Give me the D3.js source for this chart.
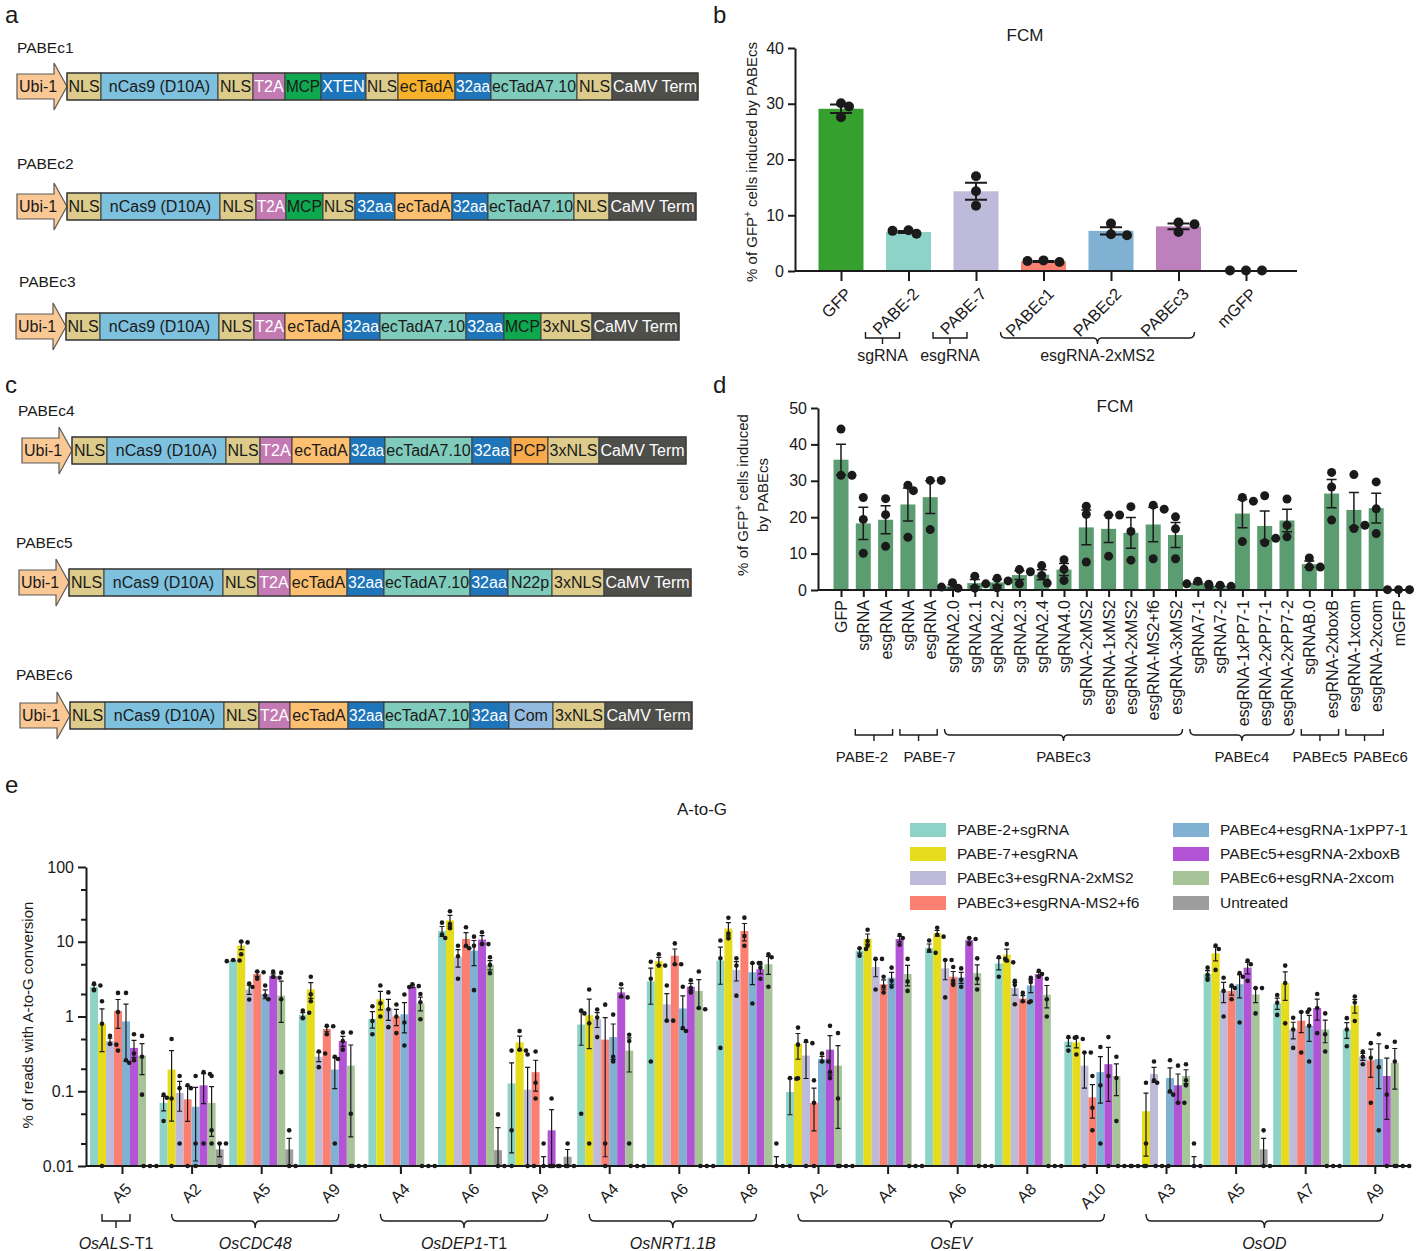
<!DOCTYPE html>
<html>
<head>
<meta charset="utf-8">
<script src="https://cdn.jsdelivr.net/npm/d3@7/dist/d3.min.js"></script>
<style>
  html, body { margin:0; padding:0; background:#ffffff; }
  svg { display:block; font-family:"Liberation Sans", Arial, Helvetica, sans-serif; }
</style>
</head>
<body>
<svg id="fig" width="1418" height="1251" viewBox="0 0 1418 1251"></svg>
<script>
// ================= DATA =================
// Panels a & c : construct maps (element labels + relative element lengths)
const constructNames = ["PABEc1","PABEc2","PABEc3","PABEc4","PABEc5","PABEc6"];
const pabec1Parts = ["NLS","nCas9 (D10A)","NLS","T2A","MCP","XTEN","NLS","ecTadA","32aa","ecTadA7.10","NLS","CaMV Term"];
const pabec1Len   = [34,117,35,32,36,45,32,57,36,86,35,86];
const pabec2Parts = ["NLS","nCas9 (D10A)","NLS","T2A","MCP","NLS","32aa","ecTadA","32aa","ecTadA7.10","NLS","CaMV Term"];
const pabec2Len   = [34,119,36,30,37,32,40,57,36,86,35,87];
const pabec3Parts = ["NLS","nCas9 (D10A)","NLS","T2A","ecTadA","32aa","ecTadA7.10","32aa","MCP","3xNLS","CaMV Term"];
const pabec3Len   = [34,119,35,31,58,37,86,38,37,51,87];
const pabec4Parts = ["NLS","nCas9 (D10A)","NLS","T2A","ecTadA","32aa","ecTadA7.10","32aa","PCP","3xNLS","CaMV Term"];
const pabec4Len   = [35,119,34,32,58,35,87,39,37,51,87];
const pabec5Parts = ["NLS","nCas9 (D10A)","NLS","T2A","ecTadA","32aa","ecTadA7.10","32aa","N22p","3xNLS","CaMV Term"];
const pabec5Len   = [35,119,35,32,57,37,86,38,44,52,87];
const pabec6Parts = ["NLS","nCas9 (D10A)","NLS","T2A","ecTadA","32aa","ecTadA7.10","32aa","Com","3xNLS","CaMV Term"];
const pabec6Len   = [35,119,35,31,58,36,86,39,44,52,87];
const promoterLabel = "Ubi-1";

// Panel b : FCM
const bCats  = ["GFP","PABE-2","PABE-7","PABEc1","PABEc2","PABEc3","mGFP"];
const bMeans = [29.1, 7.0, 14.3, 1.7, 7.2, 8.0, 0.1];
const bDots  = [[30.1,29.5,27.6],[7.3,6.7,7.2],[17.0,14.3,11.7],[1.9,1.6,1.8],[8.5,6.6,6.4],[8.7,8.4,7.0],[0.1,0.1,0.1]];
const bTicks = [0,10,20,30,40];
const bGroupLabels = ["sgRNA","esgRNA","esgRNA-2xMS2"];
const bGroupFirst  = [1,2,3];
const bGroupLast   = [1,2,5];

// Panel d : FCM
const dCats  = ["GFP","sgRNA","esgRNA","sgRNA","esgRNA","sgRNA2.0","sgRNA2.1","sgRNA2.2","sgRNA2.3","sgRNA2.4","sgRNA4.0",
                "sgRNA-2xMS2","esgRNA-1xMS2","esgRNA-2xMS2","esgRNA-MS2+f6","esgRNA-3xMS2","sgRNA7-1","sgRNA7-2",
                "esgRNA-1xPP7-1","esgRNA-2xPP7-1","esgRNA-2xPP7-2","sgRNAB.0","esgRNA-2xboxB","esgRNA-1xcom","esgRNA-2xcom","mGFP"];
const dMeans = [35.8,18.3,19.3,23.5,25.5,1.0,1.9,2.1,4.1,4.2,5.6,17.2,16.8,15.7,18.0,15.1,1.9,1.1,21.0,17.6,19.1,7.1,26.5,22.0,22.5,0.1];
const dDots  = [[44.2,31.5,31.5],[25.4,19.4,10.1],[25.1,20.7,12.0],[28.8,27.3,14.5],[30.1,30.1,16.6],[2.0,0.5,0.8],[3.8,0.5,1.7],
                [3.2,0.6,2.5],[5.6,5.0,1.7],[6.7,4.0,1.9],[8.3,5.7,2.6],[23.0,20.8,7.7],[20.6,20.6,9.3],[22.9,16.1,8.2],[23.3,22.2,8.6],
                [20.1,16.8,8.6],[2.4,1.6,1.7],[1.3,1.0,1.0],[25.4,24.4,13.3],[25.9,13.0,14.2],[25.0,17.8,14.6],[8.8,6.3,6.3],
                [32.3,28.3,19.2],[31.7,16.9,17.8],[29.7,22.3,15.5],[0.1,0.1,0.1]];
const dTicks = [0,10,20,30,40,50];
const dGroupLabels = ["PABE-2","PABE-7","PABEc3","PABEc4","PABEc5","PABEc6"];
const dGroupFirst  = [1,3,5,16,21,23];
const dGroupLast   = [2,4,15,20,22,24];

// Panel e : A-to-G (19 target sites, 8 treatments)
const eSites = ["A5","A2","A5","A9","A4","A6","A9","A4","A6","A8","A2","A4","A6","A8","A10","A3","A5","A7","A9"];
const eGenes      = ["OsALS","OsCDC48","OsDEP1","OsNRT1.1B","OsEV","OsOD"];
const eGeneSuffix = ["-T1","","-T1","","",""];
const eGeneFirst  = [0,1,4,7,10,15];
const eGeneLast   = [0,3,6,9,14,18];
const eSeries = ["PABE-2+sgRNA","PABE-7+esgRNA","PABEc3+esgRNA-2xMS2","PABEc3+esgRNA-MS2+f6",
                 "PABEc4+esgRNA-1xPP7-1","PABEc5+esgRNA-2xboxB","PABEc6+esgRNA-2xcom","Untreated"];
const eMajorTicks = [0.01,0.1,1,10,100];
const eMinorTicks = [0.02,0.05,0.2,0.5,2,5,20,50];

const pabe2Mean = [2.5,0.07,5.6,1.05,0.93,13.9,0.127,0.78,2.95,5.6,0.098,7.6,8.3,5.1,0.46,0,3.7,1.5,0.67];
const pabe2Dots = [[2.75,2.6,2.25],[0.09,0.082,0.04],[5.7,5.6,5.5],[1.2,1.12,0.95],[1.37,0.87,0.58],[18,12.5,11.2],[0.35,0.03,0],
  [1.2,1.1,0.05],[5.4,3.2,0.25],[10.4,6.0,0.38],[0.15,0.147,0],[8.2,8.0,6.5],[10.4,7.6,7.1],[6.2,5.9,3.4],[0.53,0.52,0.35],
  [0,0,0],[4.5,3.6,3.1],[1.94,1.53,1.05],[0.95,0.67,0.4]];
const pabe7Mean = [0.8,0.195,8.9,2.3,1.7,19.3,0.45,1.04,5.5,15.0,0.43,11.0,13.0,6.7,0.45,0.054,7.0,2.8,1.4];
const pabe7Dots = [[1.6,0.8,0],[0.5,0.08,0],[10.1,9.8,6.8],[3.4,1.98,1.6],[2.6,1.5,1.0],[25.6,17.3,15.2],[0.64,0.36,0.35],
  [2.3,0.81,0.02],[6.8,4.8,4.8],[20.9,12.9,11.1],[0.71,0.42,0.149],[14.5,10.2,8.85],[15.4,12.4,11.7],[9.3,5.6,5.3],[0.53,0.5,0.31],
  [0.13,0.02,0],[8.9,8.0,4.2],[4.8,2.8,0.81],[1.85,1.54,0.87]];
const c3ms2Mean = [0.47,0.095,2.3,0.29,1.29,6.2,0.105,0.92,1.45,4.2,0.30,4.6,4.4,2.4,0.22,0.17,2.2,0.67,0.29];
const c3ms2Dots = [[0.55,0.43,0.42],[0.16,0.11,0.02],[2.76,2.48,1.69],[0.34,0.32,0.21],[2.1,1.25,0.72],[8.85,6.4,3.2],[0.31,0,0],
  [1.24,0.97,0.53],[2.6,0.88,0.88],[6.0,4.8,1.9],[0.47,0.44,0],[5.9,5.9,2.3],[5.7,5.7,1.8],[3.0,2.65,1.46],[0.33,0.33,0],
  [0.25,0.14,0.13],[3.3,2.2,1.0],[0.96,0.67,0.38],[0.34,0.29,0.23]];
const c3f6Mean = [1.19,0.078,3.7,0.68,1.0,10.9,0.18,0.49,6.5,13.9,0.07,2.7,3.4,1.74,0.083,0,2.2,0.88,0.26];
const c3f6Dots = [[2.07,1.15,0.35],[0.12,0.11,0],[4.0,3.9,3.2],[0.75,0.74,0.58],[1.45,1.0,0.6],[15.6,8.85,8.2],[0.34,0.13,0.08],
  [1.44,0.02,0],[9.5,5.0,5.0],[21,11.9,8.85],[0.14,0.07,0],[3.4,2.5,2.1],[4.6,3.0,2.65],[2.07,1.6,1.55],[0.16,0.06,0.03],
  [0,0,0],[2.6,2.4,1.7],[1.15,1.15,0.33],[0.44,0.28,0.07]];
const c4Mean = [0.86,0.062,2.0,0.195,1.07,7.6,0.0067,0.53,1.28,3.9,0.27,3.3,3.33,2.6,0.18,0.15,2.7,0.75,0.27];
const c4Dots = [[2.07,0.26,0.24],[0.16,0.02,0],[2.6,1.9,1.7],[0.29,0.27,0.02],[1.97,0.83,0.41],[11.7,8.85,2.25],[0.02,0,0],
  [1.06,0.29,0.25],[2.5,0.7,0.64],[5.2,5.2,1.49],[0.32,0.25,0.25],[4.5,3.0,2.5],[4.4,3.1,2.5],[3.3,2.9,1.6],[0.39,0.12,0.02],
  [0.26,0.1,0.09],[3.8,3.4,0.83],[1.24,0.75,0.25],[0.58,0.21,0.03]];
const c5Mean = [0.38,0.12,3.5,0.47,2.5,10.7,0.03,2.1,2.5,4.3,0.36,10.9,10.5,3.7,0.23,0.12,4.5,1.3,0.16];
const c5Dots = [[0.58,0.32,0.26],[0.18,0.17,0.02],[3.98,3.4,3.3],[0.61,0.47,0.36],[2.7,2.55,2.48],[13.4,9.3,9.3],[0.08,0,0],
  [2.7,1.85,1.8],[3.05,2.4,2.1],[5.2,4.5,3.2],[0.75,0.18,0.15],[12.3,11.2,9.1],[11.2,10.9,9.3],[4.1,3.7,3.4],[0.53,0.16,0],
  [0.22,0.07,0.07],[5.6,5.0,3.0],[2.0,1.3,0.6],[0.39,0.09,0]];
const c6Mean = [0.30,0.07,1.9,0.22,1.5,4.9,0,0.35,2.2,5.0,0.22,3.7,3.8,1.95,0.16,0.16,1.97,0.67,0.24];
const c6Dots = [[0.55,0.29,0.09],[0.16,0.03,0.02],[3.86,1.7,0.18],[0.61,0.05,0],[2.0,1.55,0.92],[6.2,4.9,3.8],[0,0,0],
  [0.57,0.47,0.02],[4.0,1.3,1.25],[6.8,6.2,2.5],[0.6,0.08,0],[5.9,2.95,2.2],[6.0,3.2,2.3],[3.2,1.7,1.0],[0.29,0.15,0.04],
  [0.23,0.14,0.12],[2.4,2.4,1.1],[1.1,0.58,0.34],[0.46,0.25,0]];
const untrMean = [0,0.0167,0.0167,0,0,0.0163,0.0133,0,0,0.0067,0,0,0,0,0,0.0067,0.0167,0,0];
const untrDots = [[0,0,0],[0.02,0.02,0.01],[0.03,0.01,0.01],[0,0,0],[0,0,0],[0.049,0,0],[0.02,0.01,0.01],[0,0,0],[0,0,0],
  [0.02,0,0],[0,0,0],[0,0,0],[0,0,0],[0,0,0],[0,0,0],[0.02,0,0],[0.03,0.01,0.01],[0,0,0],[0,0,0]];

// ================= DRAWING =================
const svg = d3.select("#fig");
const INK = "#1a1a1a";
const sem = a => a.length > 1 ? d3.deviation(a) / Math.sqrt(a.length) : 0;

function swarm(vals, yfn, r, step) {
  const placed = [];
  return vals.map(v => {
    const py = yfn(v);
    const offs = [0, step, -step, 2*step, -2*step];
    for (const o of offs) {
      if (placed.every(p => Math.hypot(p[0]-o, p[1]-py) >= r*1.7)) { placed.push([o,py]); return [o,py]; }
    }
    placed.push([0,py]); return [0,py];
  });
}
function bracket(g, x0, x1, yTop, yLine, yDown, curly, sw) {
  const xm = (x0+x1)/2;
  let d;
  if (!curly) d = `M${x0},${yTop}V${yLine}H${x1}V${yTop}M${xm},${yLine}V${yDown}`;
  else d = `M${x0},${yTop}Q${x0},${yLine} ${x0+5},${yLine}H${xm-4}Q${xm},${yLine} ${xm},${yDown}Q${xm},${yLine} ${xm+4},${yLine}H${x1-5}Q${x1},${yLine} ${x1},${yTop}`;
  g.append("path").attr("d", d).attr("fill","none").attr("stroke", INK).attr("stroke-width", sw||1.4);
}
function styleAxis(g, fs, sw) {
  g.selectAll("text").attr("font-family",'"Liberation Sans", Arial, sans-serif').attr("font-size", fs).attr("fill", INK);
  g.selectAll("line").attr("stroke", INK).attr("stroke-width", sw);
  g.selectAll("path.domain").attr("stroke", INK).attr("stroke-width", sw);
}

// ---- panel letters
[["a",5,23],["b",713,23],["c",5,393],["d",713,393],["e",5,793]].forEach(([t,x,y]) =>
  svg.append("text").attr("x",x).attr("y",y).attr("font-size",24).attr("fill",INK).text(t));

// ---- panels a & c : constructs
const constructParts = [pabec1Parts,pabec2Parts,pabec3Parts,pabec4Parts,pabec5Parts,pabec6Parts];
const constructLens  = [pabec1Len,pabec2Len,pabec3Len,pabec4Len,pabec5Len,pabec6Len];
const rowTop   = [73,193,313,437,569,702];
const rowStart = [67,67,66,72,69,70];
const rowH = 27;
const labelPos = [[17,48],[17,164],[19,282],[18,411],[16,543],[16,675]];
const partFill = {"NLS":"#dccb8b","3xNLS":"#dccb8b","nCas9 (D10A)":"#7dc1de","T2A":"#c37ab3","MCP":"#0ea94f",
  "XTEN":"#1d76bc","ecTadA":"#fdc070","32aa":"#1e75b9","ecTadA7.10":"#80ccbc","CaMV Term":"#4e4e4b",
  "PCP":"#f8aa4c","N22p":"#80ccbc","Com":"#93badf"};
const whiteText = new Set(["T2A","XTEN","32aa","CaMV Term"]);

constructNames.forEach((nm, r) => {
  const g = svg.append("g");
  g.append("text").attr("x", labelPos[r][0]).attr("y", labelPos[r][1]).attr("dy","0.35em")
    .attr("font-size",15.5).attr("fill",INK).text(nm);
  const top = rowTop[r], bot = top + rowH, mid = top + rowH/2;
  const x0 = rowStart[r];
  const lens = constructLens[r], parts = constructParts[r];
  const cum = Array.from(d3.cumsum(lens));
  const xs = d3.scaleLinear().domain([0, d3.sum(lens)]).range([x0, x0 + d3.sum(lens)]);
  const ax0 = x0 - 50, axh = x0 - 13;
  g.append("path").attr("d", `M${ax0},${top+1}H${axh}V${top-10}L${x0},${mid}L${axh},${bot+10}V${bot-1}H${ax0}Z`)
    .attr("fill","#f9c894").attr("stroke","#5a5a5a").attr("stroke-width",1.2);
  const ut = g.append("text").attr("x", ax0+2).attr("y", mid).attr("dy","0.36em").attr("font-size",16).attr("fill",INK).text(promoterLabel);
  if (ut.node().getComputedTextLength() > 42) ut.attr("textLength",42).attr("lengthAdjust","spacingAndGlyphs");
  parts.forEach((p,i) => {
    const a = xs(i ? cum[i-1] : 0), b = xs(cum[i]);
    let fill = partFill[p];
    if (r === 0 && p === "ecTadA") fill = "#f7b12b";
    g.append("rect").attr("x",a).attr("y",top).attr("width",b-a).attr("height",rowH)
      .attr("fill",fill).attr("stroke","#3c3c3c").attr("stroke-width",1);
    const t = g.append("text").attr("x",(a+b)/2).attr("y",mid).attr("dy","0.36em").attr("text-anchor","middle")
      .attr("font-size",16).attr("fill", whiteText.has(p) ? "#ffffff" : INK).text(p);
    const w = t.node().getComputedTextLength();
    if (w > (b-a) - 2) t.attr("textLength", (b-a)-2).attr("lengthAdjust","spacingAndGlyphs");
  });
  g.append("rect").attr("x",x0).attr("y",top).attr("width",d3.sum(lens)).attr("height",rowH)
    .attr("fill","none").attr("stroke","#3c3c3c").attr("stroke-width",1.2);
});

// ---- panel b
(function(){
  const g = svg.append("g");
  const bColors = ["#36a02f","#8dd3c7","#bebada","#fb8072","#80b1d3","#bc80bd","#999999"];
  const x = d3.scalePoint().domain(bCats).range([841, 1246]);
  const y = d3.scaleLinear().domain([0,40]).range([271,48]);
  const bw = 45, axX = 795, y0 = y(0);
  g.append("text").attr("x",1025).attr("y",35).attr("dy","0.35em").attr("text-anchor","middle").attr("font-size",17).attr("fill",INK).text("FCM");
  g.selectAll("rect.bar").data(bCats).join("rect").attr("class","bar")
    .attr("x", d => x(d)-bw/2).attr("width", bw)
    .attr("y", (d,i) => y(bMeans[i])).attr("height", (d,i) => y0 - y(bMeans[i]))
    .attr("fill", (d,i) => bColors[i]);
  const ya = g.append("g").attr("transform",`translate(${axX},0)`)
    .call(d3.axisLeft(y).tickValues(bTicks).tickSize(7).tickSizeOuter(0).tickPadding(4));
  styleAxis(ya, 16, 2);
  const xa = g.append("g").attr("transform",`translate(0,${y0})`)
    .call(d3.axisBottom(x).tickSize(10).tickSizeOuter(0));
  xa.select(".domain").remove();
  styleAxis(xa, 16.5, 2);
  xa.selectAll(".tick text").attr("y",0).attr("dy","0.35em").attr("text-anchor","end")
    .attr("transform","translate(7,20) rotate(-45)");
  g.append("line").attr("x1",axX).attr("x2",1297).attr("y1",y0).attr("y2",y0).attr("stroke",INK).attr("stroke-width",2);
  bCats.forEach((c,i) => {
    const s = sem(bDots[i]), m = bMeans[i], cx = x(c);
    if (s > 0.05) {
      const lo = y(m - s), hi = y(m + s);
      g.append("path").attr("d",`M${cx},${lo}V${hi}M${cx-11},${hi}H${cx+11}M${cx-11},${lo}H${cx+11}`)
        .attr("stroke",INK).attr("stroke-width",2).attr("fill","none");
    }
    swarm(bDots[i], y, 5, 8).forEach(([o,py]) =>
      g.append("circle").attr("cx",cx+o).attr("cy",py).attr("r",5).attr("fill",INK));
  });
  const yl = g.append("text").attr("transform","translate(757,162) rotate(-90)").attr("text-anchor","middle")
    .attr("font-size",15).attr("fill",INK);
  yl.append("tspan").text("% of GFP");
  yl.append("tspan").attr("font-size",10).attr("dy",-6).text("+");
  yl.append("tspan").attr("dy",6).text(" cells induced by PABEcs");
  bGroupLabels.forEach((lab,k) => {
    const xa0 = x(bCats[bGroupFirst[k]]) - 43, xa1 = x(bCats[bGroupLast[k]]) + (bGroupFirst[k]===bGroupLast[k] ? -9 : 16);
    bracket(g, xa0, xa1, 332, 338, 344, bGroupFirst[k]!==bGroupLast[k], 1.4);
    g.append("text").attr("x",(xa0+xa1)/2).attr("y",355).attr("dy","0.35em").attr("text-anchor","middle")
      .attr("font-size",16).attr("fill",INK).text(lab);
  });
})();

// ---- panel d
(function(){
  const g = svg.append("g");
  const idx = d3.range(dCats.length);
  const x = d3.scalePoint().domain(idx).range([841, 1398.5]);
  const y = d3.scaleLinear().domain([0,50]).range([590,408]);
  const bw = 15, axX = 818, y0 = y(0);
  g.append("text").attr("x",1115).attr("y",406).attr("dy","0.35em").attr("text-anchor","middle").attr("font-size",17).attr("fill",INK).text("FCM");
  g.selectAll("rect.bar").data(idx).join("rect").attr("class","bar")
    .attr("x", i => x(i)-bw/2).attr("width", bw)
    .attr("y", i => y(dMeans[i])).attr("height", i => y0 - y(dMeans[i]))
    .attr("fill", "#5c9c71");
  const ya = g.append("g").attr("transform",`translate(${axX},0)`)
    .call(d3.axisLeft(y).tickValues(dTicks).tickSize(7).tickSizeOuter(0).tickPadding(4));
  styleAxis(ya, 16, 2);
  const xa = g.append("g").attr("transform",`translate(0,${y0})`)
    .call(d3.axisBottom(x).tickSize(7).tickSizeOuter(0).tickFormat(i => dCats[i]));
  xa.select(".domain").remove();
  styleAxis(xa, 16, 2);
  xa.selectAll(".tick text").attr("y",0).attr("dy","0.35em").attr("text-anchor","end")
    .attr("transform","translate(0,10) rotate(-90)");
  g.append("line").attr("x1",axX).attr("x2",1410).attr("y1",y0).attr("y2",y0).attr("stroke",INK).attr("stroke-width",2);
  idx.forEach(i => {
    const s = sem(dDots[i]), m = dMeans[i], cx = x(i);
    if (s > 0.05) {
      const lo = y(Math.max(0, m - s)), hi = y(m + s);
      g.append("path").attr("d",`M${cx},${lo}V${hi}M${cx-5},${hi}H${cx+5}M${cx-5},${lo}H${cx+5}`)
        .attr("stroke",INK).attr("stroke-width",1.5).attr("fill","none");
    }
    swarm(dDots[i], y, 4.5, 5.5).forEach(([o,py]) =>
      g.append("circle").attr("cx",cx+o).attr("cy",py).attr("r",4.5).attr("fill",INK));
  });
  const yl = g.append("text").attr("transform","translate(748,495) rotate(-90)").attr("text-anchor","middle")
    .attr("font-size",15).attr("fill",INK);
  yl.append("tspan").text("% of GFP");
  yl.append("tspan").attr("font-size",10).attr("dy",-6).text("+");
  yl.append("tspan").attr("dy",6).text(" cells induced");
  g.append("text").attr("transform","translate(768,495) rotate(-90)").attr("text-anchor","middle")
    .attr("font-size",15).attr("fill",INK).text("by PABEcs");
  const labelNudge = [-12, 11, 0, 0, 0, 16];
  dGroupLabels.forEach((lab,k) => {
    const xa0 = x(dGroupFirst[k]) - 8, xa1 = x(dGroupLast[k]) + 7;
    const curly = dGroupLast[k] - dGroupFirst[k] > 2;
    bracket(g, xa0, xa1, 729, 735, 741, curly, 1.4);
    g.append("text").attr("x",(xa0+xa1)/2 + labelNudge[k]).attr("y",757).attr("dy","0.35em").attr("text-anchor","middle")
      .attr("font-size",15).attr("fill",INK).text(lab);
  });
})();

// ---- panel e
(function(){
  const g = svg.append("g");
  const eColors = ["#8dd3c7","#e6dc1b","#bebada","#fb8072","#80b1d3","#b353d6","#a7c498","#9d9d9d"];
  const eMeans = [pabe2Mean,pabe7Mean,c3ms2Mean,c3f6Mean,c4Mean,c5Mean,c6Mean,untrMean];
  const eDots  = [pabe2Dots,pabe7Dots,c3ms2Dots,c3f6Dots,c4Dots,c5Dots,c6Dots,untrDots];
  const idx = d3.range(eSites.length);
  const x = d3.scalePoint().domain(idx).range([122, 1374.8]);
  const y = d3.scaleLog().domain([0.01,100]).range([1166,867]).clamp(true);
  const yv = v => y(Math.max(v, 0.01));
  const bw = 8.0, axX = 86, y0 = 1166;
  const bx = (i,k) => x(i) + (k - 3.5) * bw;
  g.append("text").attr("x",702).attr("y",809).attr("dy","0.35em").attr("text-anchor","middle").attr("font-size",17).attr("fill",INK).text("A-to-G");
  eSeries.forEach((nm,k) => {
    idx.forEach(i => {
      const m = eMeans[k][i];
      if (m > 0.0101) g.append("rect").attr("x", bx(i,k)-bw/2).attr("width", bw)
        .attr("y", yv(m)).attr("height", y0 - yv(m)).attr("fill", eColors[k]);
    });
  });
  eSeries.forEach((nm,k) => {
    idx.forEach(i => {
      const m = eMeans[k][i]; if (!(m > 0)) return;
      const s = sem(eDots[k][i]); const cx = bx(i,k);
      const hi = yv(m + s), lo = yv(m - s);
      let d = `M${cx},${lo}V${hi}M${cx-2.5},${hi}H${cx+2.5}`;
      if (m - s > 0.0101) d += `M${cx-2.5},${lo}H${cx+2.5}`;
      g.append("path").attr("d", d).attr("stroke",INK).attr("stroke-width",1.2).attr("fill","none");
    });
  });
  eSeries.forEach((nm,k) => {
    idx.forEach(i => {
      const cx = bx(i,k);
      swarm(eDots[k][i], yv, 2.3, 3.2).forEach(([o,py]) =>
        g.append("circle").attr("cx",cx+o).attr("cy",py).attr("r",2.3).attr("fill",INK));
    });
  });
  const fmt = d => (d >= 1 ? d3.format("d")(d) : String(d));
  const ya = g.append("g").attr("transform",`translate(${axX},0)`)
    .call(d3.axisLeft(y).tickValues(eMajorTicks).tickFormat(fmt).tickSize(8).tickSizeOuter(0).tickPadding(4));
  styleAxis(ya, 16, 2);
  const ym = g.append("g").attr("transform",`translate(${axX},0)`)
    .call(d3.axisLeft(y).tickValues(eMinorTicks).tickFormat("").tickSize(5).tickSizeOuter(0));
  ym.select(".domain").remove();
  styleAxis(ym, 16, 2);
  const xa = g.append("g").attr("transform",`translate(0,${y0})`)
    .call(d3.axisBottom(x).tickSize(8).tickSizeOuter(0).tickFormat(i => eSites[i]));
  xa.select(".domain").remove();
  styleAxis(xa, 16, 2);
  xa.selectAll(".tick text").attr("y",0).attr("dy","0.35em").attr("text-anchor","end")
    .attr("transform","translate(6,20) rotate(-45)");
  g.append("line").attr("x1",axX).attr("x2",1408).attr("y1",y0).attr("y2",y0).attr("stroke",INK).attr("stroke-width",2);
  g.append("text").attr("transform","translate(33,1015) rotate(-90)").attr("text-anchor","middle")
    .attr("font-size",15).attr("fill",INK).text("% of reads with A-to-G conversion");
  eGenes.forEach((gn,k) => {
    const xa0 = x(eGeneFirst[k]) - 20, xa1 = x(eGeneLast[k]) + 8;
    bracket(g, xa0, xa1, 1214, 1221, 1228, eGeneFirst[k] !== eGeneLast[k], 1.4);
    const t = g.append("text").attr("x",(xa0+xa1)/2).attr("y",1243).attr("dy","0.35em").attr("text-anchor","middle")
      .attr("font-size",16).attr("fill",INK);
    t.append("tspan").attr("font-style","italic").text(gn);
    if (eGeneSuffix[k]) t.append("tspan").text(eGeneSuffix[k]);
  });
  const rowsY = [830,854,878,903];
  eSeries.forEach((nm,k) => {
    const col = k < 4 ? 0 : 1, r = k % 4;
    const lx = col ? 1173 : 910;
    g.append("rect").attr("x",lx).attr("y",rowsY[r]-7).attr("width",36).attr("height",14).attr("fill",eColors[k]);
    g.append("text").attr("x",lx+47).attr("y",rowsY[r]).attr("dy","0.35em").attr("font-size",15.5).attr("fill",INK).text(nm);
  });
})();
</script>
</body>
</html>
